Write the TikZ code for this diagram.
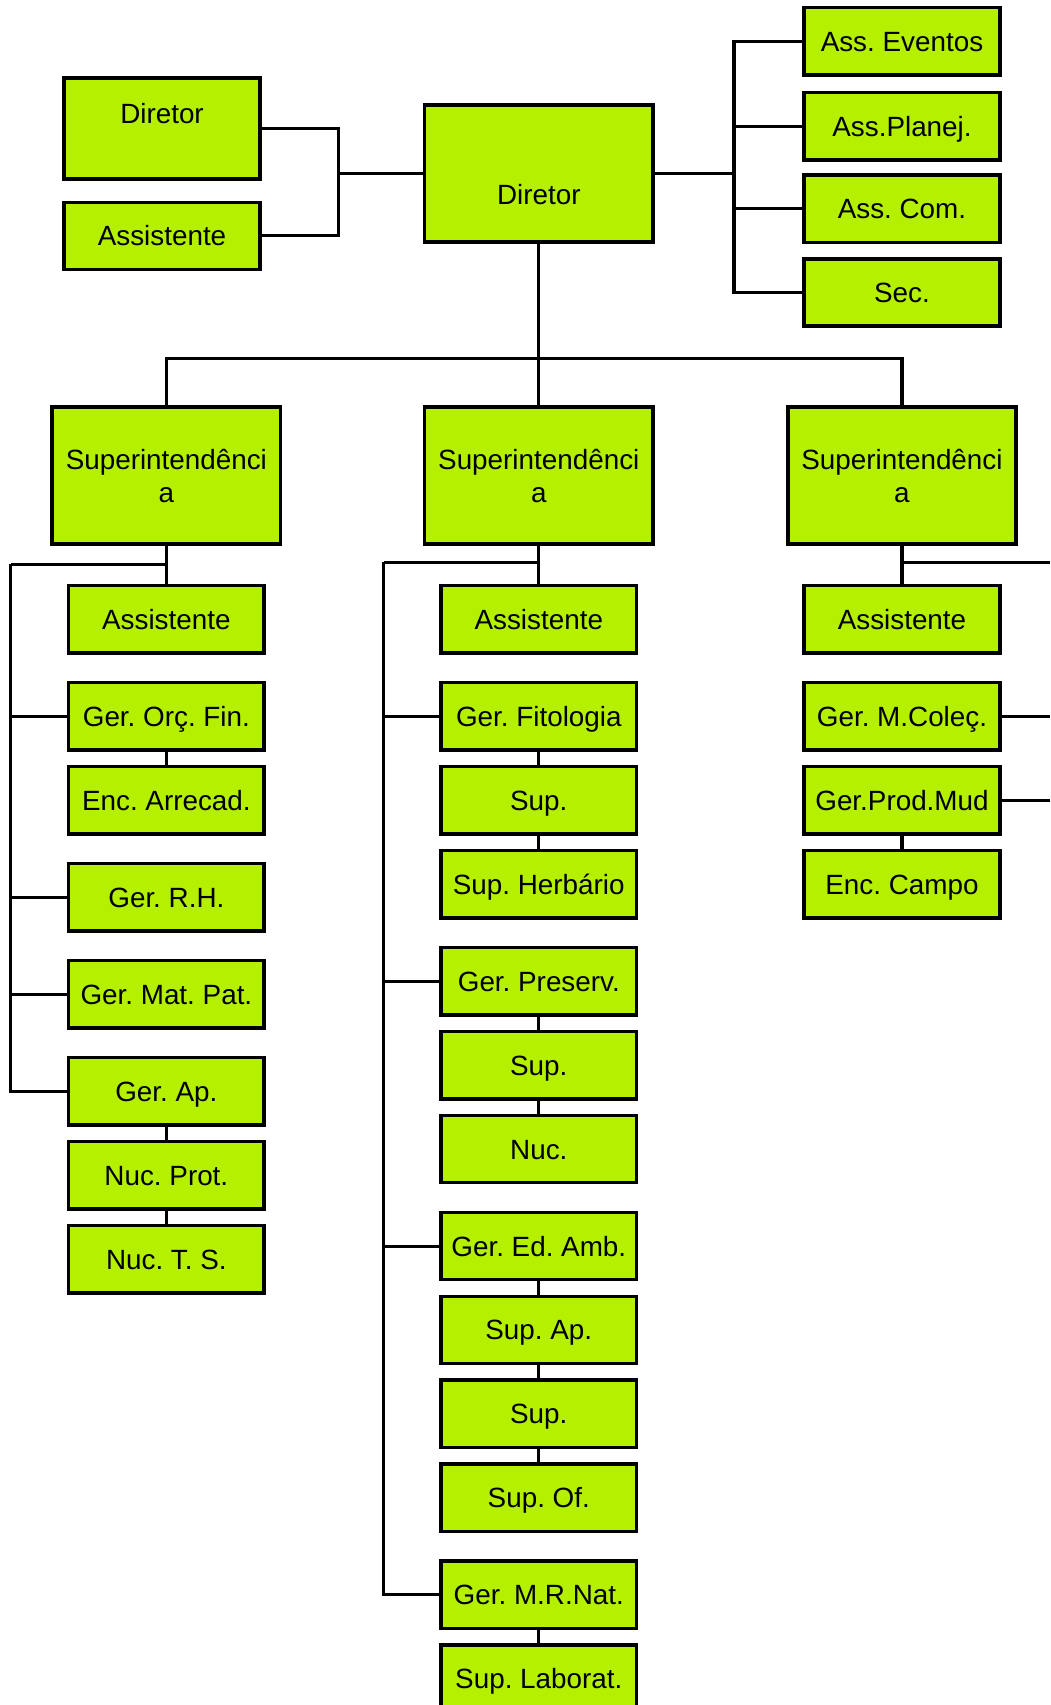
\documentclass[tikz,border=0pt]{standalone}
\usepackage{fontspec}
\setmainfont{Liberation Sans}
\usetikzlibrary{positioning}
\definecolor{limefill}{RGB}{180,240,0}
\frenchspacing

\begin{document}
\begin{tikzpicture}[x=0.5pt,y=-0.5pt,
    boxbase/.style={draw,fill=limefill,line width=1.6pt,inner sep=0pt,
      font=\fontsize{12.8pt}{15pt}\selectfont},
    box/.style={boxbase,minimum width=90pt,minimum height=31pt,
      text height=9.2pt,text depth=0pt},
    bigbox/.style={box,minimum width=105pt,minimum height=63pt},
    supbox/.style={boxbase,align=center,minimum width=105pt,minimum height=63pt},
    link/.style={line width=1.4pt}]
    \useasboundingbox (0,0) rectangle (966,1568);

    % top level
    \node[box,minimum height=46.4pt] (diradj) at (149,118) {\raisebox{7pt}{Diretor}};
    \node[box]    (asstop)  at (149,217)   {Assistente};
    \node[bigbox] (dir)     at (495.5,159.5) {\raisebox{-9.75pt}{Diretor}};
    \node[box]    (eventos) at (829.5,38)  {Ass. Eventos};
    \node[box]    (planej)  at (829.5,116) {Ass.Planej.};
    \node[box]    (com)     at (829.5,192) {Ass. Com.};
    \node[box]    (sec)     at (829.5,269) {Sec.};

    \node[supbox] (supl) at (153,437.5)   {Superintendênci\\a};
    \node[supbox] (supm) at (495.5,437.5) {Superintendênci\\a};
    \node[supbox] (supr) at (829.5,437.5) {Superintendênci\\a};

    % left column
    \node[box] (assl) at (153,569.5) {Assistente};
    \node[box,below=12pt of assl]   (gerorc)  {Ger. Orç. Fin.};
    \node[box,below=6pt of gerorc]  (encarr)  {Enc. Arrecad.};
    \node[box,below=12pt of encarr] (gerrh)   {Ger. R.H.};
    \node[box,below=12pt of gerrh]  (germat)  {Ger. Mat. Pat.};
    \node[box,below=12pt of germat] (gerap)   {Ger. Ap.};
    \node[box,below=6pt of gerap]   (nucprot) {Nuc. Prot.};
    \node[box,below=6pt of nucprot] (nucts)   {Nuc. T. S.};

    % middle column
    \node[box] (assm) at (495.5,569.5) {Assistente};
    \node[box,below=12pt of assm]    (gerfit)  {Ger. Fitologia};
    \node[box,below=6pt of gerfit]   (supfit)  {Sup.};
    \node[box,below=6pt of supfit]   (supherb) {Sup. Herbário};
    \node[box,below=12pt of supherb] (gerpres) {Ger. Preserv.};
    \node[box,below=6pt of gerpres]  (suppres) {Sup.};
    \node[box,below=6pt of suppres]  (nucpres) {Nuc.};
    \node[box,below=12pt of nucpres] (gered)   {Ger. Ed. Amb.};
    \node[box,below=6pt of gered]    (supap)   {Sup. Ap.};
    \node[box,below=6pt of supap]    (supbib)  {Sup.};
    \node[box,below=6pt of supbib]   (supof)   {Sup. Of.};
    \node[box,below=12pt of supof]   (germr)   {Ger. M.R.Nat.};
    \node[box,below=6pt of germr]    (suplab)  {Sup. Laborat.};

    % right column
    \node[box] (assr) at (829.5,569.5) {Assistente};
    \node[box,below=12pt of assr]   (gercol)  {Ger. M.Coleç.};
    \node[box,below=6pt of gercol]  (gerprod) {Ger.Prod.Mud};
    \node[box,below=6pt of gerprod] (enccamp) {Enc. Campo};

    \coordinate (jl) at (311,159.5);
    \coordinate (jr) at (675,159.5);
    \coordinate (bus) at (495.5,330);
    \coordinate (ltrunk) at (10,519);
    \coordinate (mtrunk) at (353,517);
    \coordinate (rbus) at (966,517);

    \draw[link] (diradj.east) -| (jl) |- (asstop.east);
    \draw[link] (jl) -- (dir.west);
    \draw[link] (dir.east) -- (jr);
    \draw[link] (eventos.west) -| (jr) |- (sec.west);
    \draw[link] (planej.west) -- (planej.west -| jr);
    \draw[link] (com.west) -- (com.west -| jr);

    \draw[link] (dir) -- (supm);
    \draw[link] (supl.north) |- (bus) -| (supr.north);

    \draw[link] (supl) -- (assl);
    \draw[link] (supl.south |- ltrunk) -- (ltrunk);
    \foreach \n in {gerorc,gerrh,germat,gerap}
        \draw[link] (ltrunk) |- (\n.west);
    \draw[link] (gerorc) -- (encarr);
    \draw[link] (gerap) -- (nucprot);
    \draw[link] (nucprot) -- (nucts);

    \draw[link] (supm) -- (assm);
    \draw[link] (supm.south |- mtrunk) -- (mtrunk);
    \foreach \n in {gerfit,gerpres,gered,germr}
        \draw[link] (mtrunk) |- (\n.west);
    \foreach \a/\b in {gerfit/supfit,supfit/supherb,gerpres/suppres,suppres/nucpres,
                       gered/supap,supap/supbib,supbib/supof,germr/suplab}
        \draw[link] (\a) -- (\b);

    \draw[link] (supr) -- (assr);
    \draw[link] (supr.south |- rbus) -- (rbus);
    \draw[link] (gercol.east) -- (gercol.east -| rbus);
    \draw[link] (gerprod.east) -- (gerprod.east -| rbus);
    \draw[link] (gerprod) -- (enccamp);
\end{tikzpicture}
\end{document}
